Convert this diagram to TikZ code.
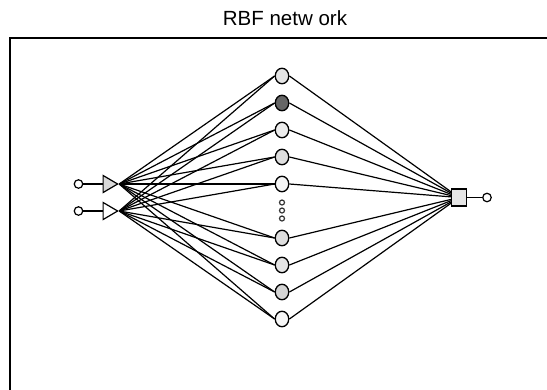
\documentclass[tikz,border=0pt]{standalone}
\usepackage{fontspec}
\setmainfont{Liberation Sans}
\usetikzlibrary{shapes.geometric}
\begin{document}
\begin{tikzpicture}[x=1pt,y=-1pt,
  hid/.style={ellipse,draw=black,line width=1.3pt,minimum width=13.5pt,minimum height=15.5pt,inner sep=0pt},
  io/.style={circle,draw=black,line width=1.2pt,minimum size=8.5pt,inner sep=0pt,fill=white},
  tri/.style={isosceles triangle,isosceles triangle stretches,draw=black,line width=1.2pt,minimum width=17pt,minimum height=14.5pt,inner sep=0pt},
  sqbox/.style={rectangle,draw=black,line width=1.2pt,minimum width=15pt,minimum height=17pt,inner sep=0pt,fill=black!10},
  dotc/.style={circle,draw=black!80,line width=1.2pt,minimum size=5pt,inner sep=0pt,fill=white},
  conn/.style={line width=1.2pt,draw=black}]
\useasboundingbox (0,0) rectangle (547,389);
\node[anchor=base,font=\fontsize{20.5pt}{24pt}\selectfont] (title) at (285,25) {RBF netw ork};
\coordinate (bl) at (10,390);
\coordinate (tl) at (10,38);
\coordinate (tr) at (547,38);
\draw[line width=2pt] (bl) -- (tl) -- (tr);
% inputs
\node[io] (i1) at (78.5,184) {};
\node[io] (i2) at (78.5,211) {};
\node[tri,fill=black!15] (t1) at (108,184) {};
\node[tri,fill=white] (t2) at (108,211) {};
\draw[conn] (i1) -- (t1.west);
\draw[conn] (i2) -- (t2.west);
% hidden
\node[hid,fill=black!10] (h1) at (282,76) {};
\node[hid,fill=black!60] (h2) at (282,103) {};
\node[hid,fill=black!7] (h3) at (282,130) {};
\node[hid,fill=black!13] (h4) at (282,157) {};
\node[hid,fill=black!4] (h5) at (282,184) {};
\node[hid,fill=black!13] (h6) at (282,238) {};
\node[hid,fill=black!10] (h7) at (282,265) {};
\node[hid,fill=black!17] (h8) at (282,292) {};
\node[hid,fill=black!3] (h9) at (282,319) {};
\node[dotc] (d1) at (282,202.5) {};
\node[dotc] (d2) at (282,210.5) {};
\node[dotc] (d3) at (282,218.5) {};
% output
\node[sqbox] (sq) at (459,197.5) {};
\node[io] (o1) at (487,197.5) {};
\draw[conn] (sq) -- (o1);
\foreach \h in {h1,h2,h3,h4,h5,h6,h7,h8,h9}{
  \draw[conn] (t1.apex) -- (\h.west);
  \draw[conn] (t2.apex) -- (\h.west);
  \draw[conn] (\h.east) -- (sq);
}
\end{tikzpicture}
\end{document}
